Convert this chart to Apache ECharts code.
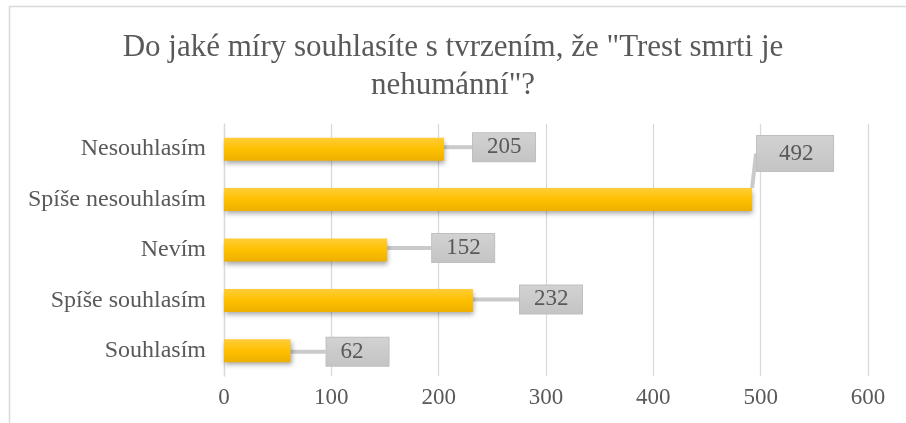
<!DOCTYPE html>
<html>
<head>
<meta charset="utf-8">
<script src="https://cdn.jsdelivr.net/npm/echarts@6/dist/echarts.min.js"></script>
<style>
  html, body { margin: 0; padding: 0; background: #fff; }
  #chart { width: 906px; height: 423px; }
</style>
</head>
<body>
<div id="chart"></div>
<script>
// data, top to bottom as shown
const categories = ['Nesouhlasím', 'Spíše nesouhlasím', 'Nevím', 'Spíše souhlasím', 'Souhlasím']
const counts = [205, 492, 152, 232, 62]
const xTicks = [0, 100, 200, 300, 400, 500, 600]

// callout offsets (px) relative to bar end
const calloutDx = [29, 5, 45, 47, 36]
const calloutDy = [-2, -46, -2, -1, 1]

const fontFamily = '"Liberation Serif", "DejaVu Serif", serif'
const textColor = '#595959'

const chart = echarts.init(document.getElementById('chart'))

// the callout of the longest bar is a bit bigger in the original
const barData = counts.map(function (v, i) {
  if (i !== 1) return v
  return {
    value: v,
    label: { width: 40, height: 25, lineHeight: 25, padding: [5, 14, 5, 22] }
  }
})

chart.setOption({
  animation: false,
  title: {
    text: 'Do jaké míry souhlasíte s tvrzením, že "Trest smrti je\nnehumánní"?',
    left: 'center',
    top: 24,
    textStyle: {
      fontFamily: fontFamily,
      fontSize: 31,
      fontWeight: 'normal',
      color: textColor,
      lineHeight: 38
    }
  },
  graphic: [{
    type: 'rect',
    shape: { x: 9.5, y: 6.5, width: 910, height: 440 },
    style: { fill: null, stroke: '#D9D9D9', lineWidth: 1.5 },
    silent: true
  }],
  grid: {
    left: 224,
    right: 38,
    top: 124,
    bottom: 47
  },
  xAxis: {
    type: 'value',
    min: xTicks[0],
    max: xTicks[xTicks.length - 1],
    interval: 100,
    axisLine: { show: false },
    axisTick: { show: false },
    axisLabel: {
      fontFamily: fontFamily,
      fontSize: 23,
      color: textColor,
      margin: 10
    },
    splitLine: { lineStyle: { color: '#D9D9D9', width: 1.3 } }
  },
  yAxis: {
    type: 'category',
    inverse: true,
    data: categories,
    axisLine: { show: true, lineStyle: { color: '#D9D9D9', width: 1.3 } },
    axisTick: { show: false },
    axisLabel: {
      fontFamily: fontFamily,
      fontSize: 24,
      color: textColor,
      margin: 18
    }
  },
  series: [{
    type: 'bar',
    data: barData,
    barWidth: 23,
    itemStyle: {
      color: new echarts.graphic.LinearGradient(0, 0, 0, 1, [
        { offset: 0, color: '#FFCD38' },
        { offset: 0.5, color: '#FFC000' },
        { offset: 1, color: '#EDB000' }
      ]),
      shadowColor: 'rgba(0,0,0,0.35)',
      shadowBlur: 5,
      shadowOffsetX: 1,
      shadowOffsetY: 3
    },
    label: {
      show: true,
      position: 'right',
      distance: 0,
      fontFamily: fontFamily,
      fontSize: 23,
      color: textColor,
      width: 44,
      height: 22,
      lineHeight: 22,
      align: 'left',
      padding: [3, 4, 3, 14],
      backgroundColor: new echarts.graphic.LinearGradient(0, 0, 0, 1, [
        { offset: 0, color: '#D2D2D2' },
        { offset: 1, color: '#C4C4C4' }
      ]),
      borderColor: '#BFBFBF',
      borderWidth: 1
    },
    labelLine: {
      show: true,
      lineStyle: { color: '#CACACA', width: 4 }
    },
    labelLayout: function (params) {
      const i = params.dataIndex
      return {
        dx: calloutDx[i],
        dy: calloutDy[i]
      }
    }
  }]
})
</script>
</body>
</html>
